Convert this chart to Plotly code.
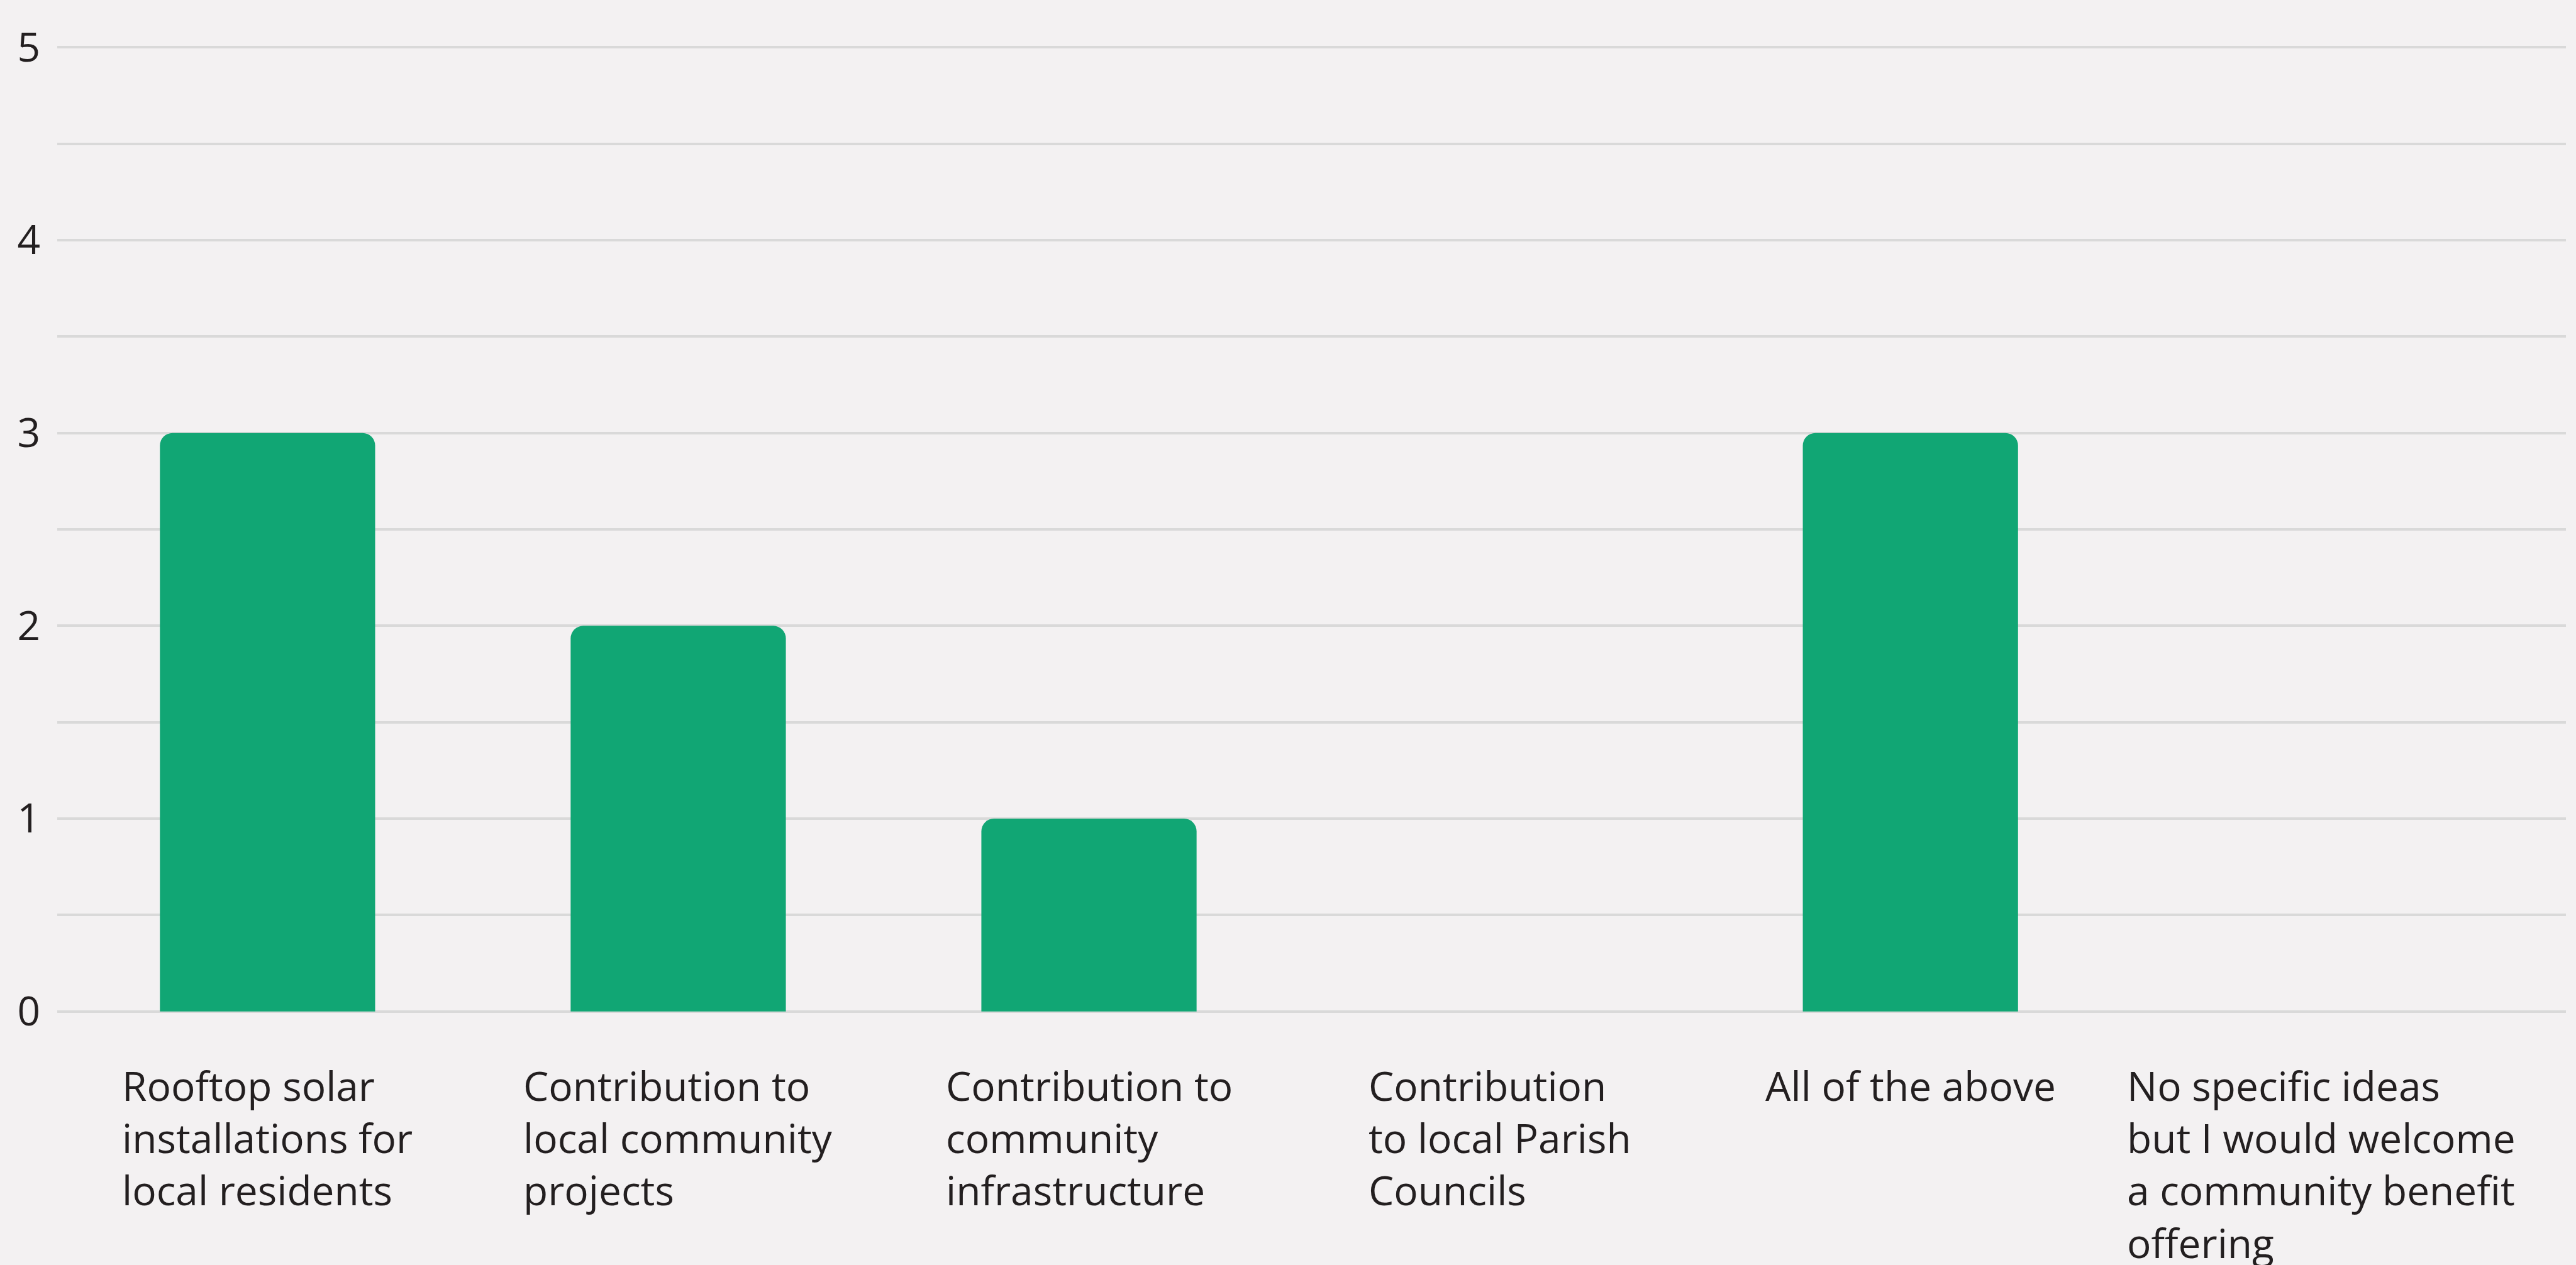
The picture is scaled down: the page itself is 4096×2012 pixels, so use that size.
import plotly.graph_objects as go

categories = [
    "Rooftop solar installations for local residents",
    "Contribution to local community projects",
    "Contribution to community infrastructure",
    "Contribution to local Parish Councils",
    "All of the above",
    "No specific ideas but I would welcome a community benefit offering",
]
label_lines = [
    "Rooftop solar<br>installations for<br>local residents",
    "Contribution to<br>local community<br>projects",
    "Contribution to<br>community<br>infrastructure",
    "Contribution<br>to local Parish<br>Councils",
    "All of the above",
    "No specific ideas<br>but I would welcome<br>a community benefit<br>offering",
]
values = [3, 2, 1, 0, 3, 0]
y_ticks = [0, 1, 2, 3, 4, 5]

BG = "#f3f1f2"
GREEN = "#11a674"
GRID = "#d9d9d9"
TEXT = "#231f20"
FONT = "Open Sans"
FS = 64

fig = go.Figure()
fig.add_trace(go.Bar(
    x=categories, y=values,
    marker=dict(color=GREEN, cornerradius=20, line=dict(width=0)),
    width=0.524,
    hoverinfo="skip",
))

for cat, lab in zip(categories, label_lines):
    fig.add_annotation(
        x=cat, y=0, xref="x", yref="y",
        text=lab, showarrow=False,
        xanchor="center", yanchor="top", align="left",
        yshift=-72,
        font=dict(family=FONT, size=FS, color=TEXT),
    )

fig.update_layout(
    width=4096, height=2012,
    margin=dict(l=91, r=16, t=66, b=394, pad=0),
    paper_bgcolor=BG, plot_bgcolor=BG,
    showlegend=False,
    font=dict(family=FONT, size=FS, color=TEXT),
)
fig.update_xaxes(
    showticklabels=False, showgrid=False, zeroline=False, showline=False,
    range=[-0.512, 5.596],
)
fig.update_yaxes(
    range=[-0.03, 5.03],
    tickvals=y_ticks, ticktext=[str(v) for v in y_ticks],
    showgrid=True, gridcolor=GRID, gridwidth=4,
    minor=dict(dtick=0.5, tick0=0, showgrid=True, gridcolor=GRID, gridwidth=4),
    zeroline=False, showline=False,
    ticks="", ticklabelstandoff=26,
    tickfont=dict(family=FONT, size=FS, color=TEXT),
)

fig.write_html("out.html")
